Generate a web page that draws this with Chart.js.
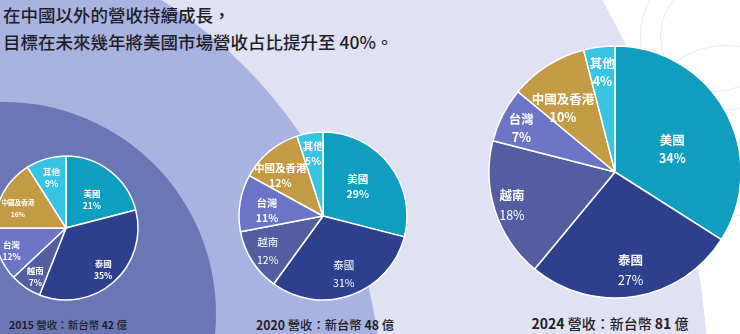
<!DOCTYPE html>
<html lang="zh-Hant-TW">
<head>
<meta charset="utf-8">
<script src="https://cdn.jsdelivr.net/npm/chart.js@4.4.1/dist/chart.umd.min.js"></script>
<style>
    html, body { margin: 0; padding: 0; }
    body {
        width: 740px; height: 334px; overflow: hidden; position: relative;
        background: #ffffff;
        font-family: "Noto Sans CJK TC", "Noto Sans", sans-serif;
        color: #1e1e28;
    }
    .circle { position: absolute; border-radius: 50%; }
    .ring { position: absolute; border-radius: 50%; border: 1px solid rgba(214, 218, 236, 0.6); }
    .title {
        position: absolute; left: 3px; top: 1px;
        font-size: 17.5px; line-height: 27px; white-space: nowrap; font-weight: 500;
    }
    .pie { position: absolute; }
    .caption { position: absolute; white-space: nowrap; transform: translate(-50%, -50%); font-weight: 500; }
    .caption b { font-weight: 700; }
</style>
</head>
<body>
    <div class="ring" style="left:640px;top:-40px;width:150px;height:150px"></div>
    <div class="ring" style="left:660px;top:-20px;width:110px;height:110px"></div>
    <div class="ring" style="left:640px;top:45px;width:170px;height:170px"></div>
    <div class="circle" style="left:-887px;top:-399px;width:1596px;height:1596px;background:#e0e1f3"></div>
    <div class="circle" style="left:-560px;top:-72px;width:942px;height:942px;background:#a9b3e2"></div>
    <div class="circle" style="left:-208px;top:102px;width:424px;height:424px;background:#6b77b5"></div>

    <div class="title">在中國以外的營收持續成長，<br>目標在未來幾年將美國市場營收占比提升至 40%。</div>

    <div class="pie" style="left:-14px;top:148px"><canvas id="pie2015" width="160" height="160"></canvas></div>
    <div class="pie" style="left:233px;top:126px"><canvas id="pie2020" width="180" height="180"></canvas></div>
    <div class="pie" style="left:480px;top:37px"><canvas id="pie2024" width="270" height="270"></canvas></div>

    <div class="caption" style="left:68px;top:324px;font-size:10.5px"><b>2015</b> 營收：新台幣 <b>42</b> 億</div>
    <div class="caption" style="left:325px;top:325px;font-size:12.3px"><b>2020</b> 營收：新台幣 <b>48</b> 億</div>
    <div class="caption" style="left:610px;top:323px;font-size:14px"><b>2024</b> 營收：新台幣 <b>81</b> 億</div>

<script>
// 營收地區占比 (%)
const regions = ["美國", "泰國", "越南", "台灣", "中國及香港", "其他"];
const share2015 = [21, 35, 7, 12, 16, 9];
const share2020 = [29, 31, 12, 11, 12, 5];
const share2024 = [34, 27, 18, 7, 10, 4];

const sliceColors = ["#0f9ec0", "#2e3f8d", "#535d9f", "#6c74c6", "#c49b45", "#38c3e3"];

// 扇形內的標籤（名稱 + 百分比）
const sliceLabels = {
    id: "sliceLabels",
    afterDatasetsDraw(chart, args, opts) {
        const ctx = chart.ctx;
        const meta = chart.getDatasetMeta(0);
        const values = chart.data.datasets[0].data;
        ctx.save();
        ctx.fillStyle = "#ffffff";
        ctx.textAlign = "center";
        ctx.textBaseline = "middle";
        meta.data.forEach((arc, i) => {
            const p = arc.getProps(["x", "y", "startAngle", "endAngle", "outerRadius"], true);
            const a = (p.startAngle + p.endAngle) / 2 + (opts.shift[i] || 0) * Math.PI / 180;
            const r = p.outerRadius * opts.dist[i];
            const x = p.x + Math.cos(a) * r;
            const y = p.y + Math.sin(a) * r;
            const light = opts.light.includes(i);
            const size = (opts.sizes && opts.sizes[i]) || opts.size;
            const gap = light ? opts.gapLight : opts.gap;
            const fam = '"Noto Sans CJK TC", "Noto Sans", sans-serif';
            ctx.font = (light && opts.lightName ? "400 " : "700 ") + size + "px " + fam;
            ctx.fillText(chart.data.labels[i], x, y - gap / 2);
            ctx.font = (light ? "400 " : "700 ") + size + "px " + fam;
            ctx.fillText(values[i] + "%", x, y + gap / 2);
        });
        ctx.restore();
    }
};

const makePie = (id, values, radius, labelOpts) => new Chart(document.getElementById(id), {
    type: "pie",
    data: {
        labels: regions,
        datasets: [{
            data: values,
            backgroundColor: sliceColors,
            borderColor: "#ffffff",
            borderWidth: 1.5
        }]
    },
    options: {
        responsive: false,
        animation: false,
        events: [],
        radius: radius,
        layout: { padding: 0 },
        plugins: {
            legend: { display: false },
            tooltip: { enabled: false },
            sliceLabels: labelOpts
        }
    },
    plugins: [sliceLabels]
});

makePie("pie2015", share2015, 72, {
    dist: [0.53, 0.78, 0.8, 0.82, 0.72, 0.72],
    shift: [5, 0, -2, -1, -7, 0],
    size: 8.5, sizes: [0, 0, 0, 0, 6.6, 0],
    gap: 12, gapLight: 12, light: [], lightName: false
});

makePie("pie2020", share2020, 84, {
    dist: [0.54, 0.73, 0.78, 0.67, 0.7, 0.75],
    shift: [-2, 0, 0, -3, -7, 0],
    size: 10.5,
    gap: 15, gapLight: 18, light: [1, 2], lightName: true
});

makePie("pie2024", share2024, 126, {
    dist: [0.49, 0.79, 0.86, 0.82, 0.65, 0.8],
    shift: [7, 0, 0, -2, -7, 0],
    size: 12.5,
    gap: 18, gapLight: 20, light: [1, 2], lightName: false
});
</script>
</body>
</html>
